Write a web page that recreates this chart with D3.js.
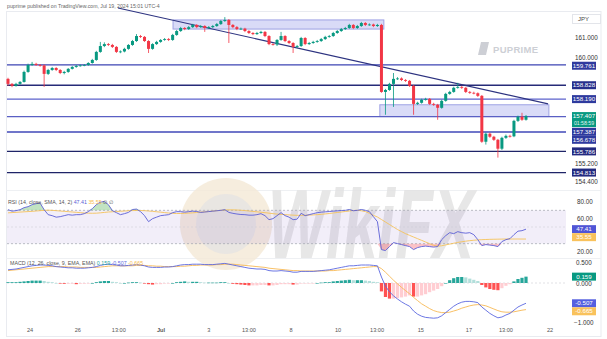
<!DOCTYPE html>
<html><head><meta charset="utf-8">
<script src="https://cdn.jsdelivr.net/npm/d3@7"></script>
<style>html,body{margin:0;padding:0;background:#fff;}svg{display:block;font-family:"Liberation Sans",Arial,sans-serif;}</style>
</head><body><svg id="c" width="607" height="339"></svg>
<script>
// ---------------- DATA ----------------
const opens = [159.12,158.89,158.80,158.89,158.98,159.44,159.76,159.81,159.76,159.74,
159.35,159.53,159.62,159.53,159.39,159.44,159.58,159.67,159.72,159.74,
159.76,159.85,159.99,160.36,160.63,160.72,160.68,160.59,160.36,160.38,
160.50,160.68,160.86,161.09,161.05,160.86,160.50,160.72,160.82,160.91,
160.95,160.91,161.14,161.32,161.46,161.41,161.50,161.60,161.50,161.55,
161.46,161.50,161.55,161.64,161.78,161.83,161.60,161.50,161.41,161.43,
161.32,161.23,161.18,161.23,161.28,161.09,160.72,160.70,160.91,161.09,
160.86,160.77,160.59,160.63,161.00,160.72,160.77,160.82,160.86,160.95,
161.05,161.09,161.23,161.32,161.41,161.46,161.60,161.46,161.55,161.69,
161.60,161.62,161.55,161.60,158.52,158.61,158.89,159.12,159.14,159.07,
159.03,158.80,157.97,158.02,158.16,158.20,157.97,157.93,157.79,158.11,
158.43,158.52,158.71,158.75,158.71,158.52,158.48,158.46,158.34,156.23,
156.60,156.46,156.32,155.91,156.41,156.50,156.48,157.19,157.38,157.24];
const highs = [159.17,158.93,158.94,159.02,159.50,159.82,159.90,159.86,159.80,159.78,
159.58,159.67,159.66,159.57,159.49,159.62,159.71,159.76,159.78,159.80,
159.89,160.04,160.41,160.82,160.80,160.77,160.73,160.63,160.43,160.55,
160.72,160.91,161.18,161.14,161.09,160.90,160.76,160.87,160.95,161.00,
161.00,161.19,161.37,161.51,161.50,161.55,161.65,161.64,161.60,161.59,
161.55,161.60,161.69,161.83,161.96,161.87,161.64,161.55,161.48,161.47,
161.36,161.27,161.28,161.33,161.32,161.13,160.76,160.95,161.28,161.13,
160.90,160.81,160.68,161.05,161.04,160.82,160.87,160.91,161.00,161.10,
161.14,161.28,161.37,161.46,161.51,161.65,161.64,161.60,161.74,161.73,
161.67,161.66,161.65,161.65,158.66,158.94,159.39,159.20,159.19,159.11,
159.07,158.84,158.07,158.21,158.25,158.24,158.02,157.97,158.16,158.48,
158.57,158.76,158.94,158.80,158.75,158.56,158.53,158.50,158.38,156.66,
156.65,156.50,156.36,156.46,156.56,156.55,157.24,157.43,157.56,157.46];
const lows = [158.80,158.74,158.76,158.85,158.95,159.40,159.72,159.72,159.68,158.75,
159.30,159.49,159.48,159.34,159.33,159.40,159.55,159.63,159.68,159.70,
159.72,159.82,159.95,160.32,160.58,160.63,160.54,160.31,160.30,160.34,
160.46,160.64,160.82,161.00,160.82,160.31,160.46,160.68,160.78,160.87,
160.86,160.87,161.10,161.28,161.36,161.37,161.46,161.45,161.46,161.28,
161.42,161.46,161.51,161.60,161.74,160.77,161.45,161.36,161.37,161.27,
161.18,161.13,161.14,161.19,161.04,160.67,160.65,160.63,160.87,160.81,
160.72,160.31,160.54,160.59,160.67,160.68,160.73,160.78,160.82,160.91,
161.01,161.05,161.19,161.28,161.37,161.42,161.41,161.42,161.51,161.55,
161.56,161.50,161.51,158.48,157.47,158.57,157.83,159.07,159.02,158.98,
158.75,157.47,157.92,157.98,158.12,157.92,157.88,157.24,157.75,158.07,
158.39,158.48,158.67,158.66,158.47,158.43,158.41,158.29,156.18,156.10,
156.41,156.27,155.50,155.85,156.36,156.42,156.44,157.14,157.19,157.20];
const closes = [158.89,158.80,158.89,158.98,159.44,159.76,159.81,159.76,159.74,159.35,
159.53,159.62,159.53,159.39,159.44,159.58,159.67,159.72,159.74,159.76,
159.85,159.99,160.36,160.63,160.72,160.68,160.59,160.36,160.38,160.50,
160.68,160.86,161.09,161.05,160.86,160.50,160.72,160.82,160.91,160.95,
160.91,161.14,161.32,161.46,161.41,161.50,161.60,161.50,161.55,161.46,
161.50,161.55,161.64,161.78,161.83,161.60,161.50,161.41,161.43,161.32,
161.23,161.18,161.23,161.28,161.09,160.72,160.70,160.91,161.09,160.86,
160.77,160.59,160.63,161.00,160.72,160.77,160.82,160.86,160.95,161.05,
161.09,161.23,161.32,161.41,161.46,161.60,161.46,161.55,161.69,161.60,
161.62,161.55,161.60,158.52,158.61,158.89,159.12,159.14,159.07,159.03,
158.80,157.97,158.02,158.16,158.20,157.97,157.93,157.79,158.11,158.43,
158.52,158.71,158.75,158.71,158.52,158.48,158.46,158.34,156.23,156.60,
156.46,156.32,155.91,156.41,156.50,156.48,157.19,157.38,157.24,157.41];

const rsi = [70.8,69.0,69.6,70.8,73.2,74.4,76.8,78.0,78.6,70.8,
64.8,63.6,61.8,62.4,63.6,64.8,64.2,64.8,64.8,66.0,
68.4,72.0,76.8,79.8,80.7,76.8,69.6,67.2,64.8,66.0,
67.5,71.0,71.5,68.5,63.6,56.4,60.0,61.8,63.6,64.2,
64.8,67.2,68.4,68.4,67.8,68.4,69.0,68.6,67.5,68.0,
68.5,69.0,69.5,70.0,70.8,67.5,66.4,65.6,65.0,64.8,
64.2,64.2,64.8,66.0,63.6,58.8,60.0,63.6,67.2,63.6,
61.8,58.8,59.4,66.4,63.6,64.8,66.0,67.2,67.8,68.2,
68.6,69.0,69.4,69.8,70.0,71.0,69.5,70.0,71.0,70.0,
68.4,62.4,56.4,22.9,21.7,26.5,31.3,30.1,28.9,27.7,
26.5,22.9,25.3,26.5,27.1,26.5,25.9,26.5,34.8,39.6,
43.2,42.0,44.4,43.2,42.6,43.2,40.8,34.8,27.7,28.9,
28.3,27.7,26.5,32.5,34.8,36.0,40.8,45.0,45.6,47.41];
const rsiSma = [67.0,67.3,67.6,67.9,68.2,68.5,68.8,69.2,69.6,70.0,
70.2,70.0,69.6,69.2,68.8,68.4,68.0,67.6,67.2,66.8,
66.6,66.5,66.6,67.0,67.5,68.0,68.3,68.6,68.9,69.2,
69.5,69.7,69.8,69.8,69.6,69.2,68.8,68.3,67.8,67.3,
66.8,66.4,66.2,66.2,66.4,66.7,67.0,67.4,67.8,68.2,
68.6,69.1,69.6,70.0,70.4,70.6,70.6,70.4,70.1,69.7,
69.2,68.7,68.2,67.7,67.2,66.6,66.0,65.5,65.1,64.8,
64.5,64.2,64.0,64.0,64.1,64.3,64.5,64.8,65.2,65.7,
66.2,66.8,67.4,68.0,68.6,69.2,69.8,70.0,69.5,68.5,
66.5,64.0,62.0,59.0,56.0,53.0,50.0,47.0,44.5,42.0,
40.0,38.0,36.0,34.0,32.0,30.0,28.0,27.0,27.5,28.5,
29.5,30.5,31.5,32.3,33.0,33.6,34.1,34.5,34.8,35.0,
35.2,35.3,35.4,35.5,35.6,35.6,35.6,35.6,35.55,35.55];

const macd = [0.33,0.34,0.35,0.37,0.39,0.41,0.43,0.44,0.45,0.45,
0.44,0.43,0.41,0.40,0.39,0.38,0.38,0.37,0.37,0.37,
0.38,0.39,0.41,0.44,0.46,0.47,0.46,0.45,0.43,0.43,
0.44,0.45,0.46,0.45,0.43,0.40,0.39,0.39,0.39,0.40,
0.40,0.41,0.43,0.45,0.46,0.46,0.47,0.47,0.47,0.46,
0.46,0.46,0.47,0.48,0.49,0.47,0.45,0.43,0.41,0.39,
0.37,0.36,0.35,0.35,0.34,0.31,0.30,0.30,0.31,0.30,
0.29,0.27,0.27,0.29,0.29,0.29,0.29,0.30,0.31,0.32,
0.33,0.35,0.37,0.39,0.41,0.43,0.43,0.44,0.45,0.45,
0.45,0.44,0.43,0.15,-0.08,-0.22,-0.32,-0.40,-0.47,-0.53,
-0.58,-0.70,-0.78,-0.83,-0.86,-0.87,-0.88,-0.87,-0.82,-0.74,
-0.66,-0.58,-0.52,-0.48,-0.46,-0.46,-0.47,-0.49,-0.60,-0.68,
-0.76,-0.82,-0.87,-0.85,-0.80,-0.76,-0.68,-0.60,-0.55,-0.507];
const signal = [0.31,0.32,0.33,0.34,0.35,0.36,0.37,0.38,0.39,0.40,
0.41,0.41,0.41,0.41,0.41,0.40,0.40,0.40,0.39,0.39,
0.39,0.39,0.39,0.40,0.41,0.42,0.43,0.43,0.43,0.43,
0.43,0.43,0.44,0.44,0.44,0.43,0.43,0.42,0.42,0.41,
0.41,0.41,0.41,0.42,0.42,0.43,0.44,0.44,0.45,0.45,
0.45,0.45,0.46,0.46,0.47,0.47,0.47,0.46,0.45,0.44,
0.43,0.42,0.41,0.40,0.39,0.37,0.36,0.35,0.34,0.33,
0.32,0.31,0.31,0.30,0.30,0.30,0.30,0.30,0.30,0.30,
0.31,0.31,0.32,0.33,0.34,0.35,0.36,0.37,0.38,0.39,
0.40,0.41,0.41,0.36,0.27,0.17,0.07,-0.02,-0.11,-0.19,
-0.27,-0.36,-0.44,-0.52,-0.58,-0.64,-0.69,-0.72,-0.74,-0.74,
-0.73,-0.70,-0.67,-0.63,-0.60,-0.57,-0.55,-0.54,-0.55,-0.57,
-0.61,-0.65,-0.69,-0.72,-0.73,-0.73,-0.72,-0.70,-0.68,-0.665];
const hist = [0.02,0.02,0.02,0.03,0.04,0.05,0.06,0.06,0.06,0.05,
0.03,0.02,0.00,-0.01,-0.02,-0.02,-0.02,-0.03,-0.02,-0.02,
-0.01,0.00,0.02,0.04,0.05,0.05,0.03,0.02,0.00,0.00,
0.01,0.02,0.02,0.01,-0.01,-0.03,-0.04,-0.03,-0.03,-0.01,
-0.01,0.00,0.02,0.03,0.04,0.03,0.03,0.03,0.02,0.01,
0.01,0.01,0.01,0.02,0.02,0.00,-0.02,-0.03,-0.04,-0.05,
-0.06,-0.06,-0.06,-0.05,-0.05,-0.06,-0.06,-0.05,-0.03,-0.03,
-0.03,-0.04,-0.04,-0.01,-0.01,-0.01,-0.01,0.00,0.01,0.02,
0.02,0.04,0.05,0.06,0.07,0.08,0.07,0.07,0.07,0.06,
0.05,0.03,0.02,-0.21,-0.35,-0.39,-0.39,-0.38,-0.36,-0.34,
-0.31,-0.34,-0.34,-0.31,-0.28,-0.23,-0.19,-0.15,-0.08,0.00,
0.07,0.12,0.15,0.15,0.14,0.11,0.08,0.05,-0.05,-0.11,
-0.15,-0.17,-0.18,-0.13,-0.07,-0.03,0.04,0.10,0.13,0.159];

// horizontal levels drawn on the price chart
const levels = [159.761,158.828,158.190,157.387,156.678,155.786,154.813];
const levelColors = ["#3d45b3","#262b78","#5c62cc","#5a5fc4","#4148b8","#1f2468","#1f2468"];
// zones: [startIndex, endIndex, top, bottom]
const zones = [[41.1,93.6,161.83,161.41],[92.6,134.7,157.93,157.387]];
// trendline: [index, price] endpoints
const trend = [[27.4,162.38],[134.5,157.97]];
const priceTicks = [161,160,155.2,154.4];
const rsiTicks = [80,60,20];
const macdTicks = [0.5,0,-1];
const timeTickPos = [5.5,17.4,27.6,38.1,50.0,60.0,70.5,82.2,91.9,102.8,114.8,124.0,135.0];
const timeTickLabels = ["24","26","13:00","Jul","3","13:00","8","10","13:00","15","17","13:00","22"];

// ---------------- DRAW ----------------
const svg = d3.select('#c');
svg.append('rect').attr('width',607).attr('height',339).attr('fill','#fff');
const N = closes.length;
const x = d3.scaleLinear().domain([0,N-1]).range([8,526]);
const y = d3.scaleLinear().domain([154.103,162.241]).range([188,11]);
const yR = d3.scaleLinear().domain([20,80]).range([252,202]);
const yM = d3.scaleLinear().domain([-1,0.5]).range([323,263]);
const idx = d3.range(N);

// frame
svg.append('rect').attr('x',6.5).attr('y',11.5).attr('width',594.5).attr('height',325)
  .attr('fill','none').attr('stroke','#e9ebf0').attr('stroke-width',1);
[190.5,258.5].forEach(v=>svg.append('line').attr('x1',6.5).attr('x2',601).attr('y1',v).attr('y2',v).attr('stroke','#eef0f3'));

// watermark
const wm = svg.append('g');
wm.append('circle').attr('cx',226).attr('cy',224).attr('r',46).attr('fill','#f4e8d6').attr('opacity',0.8);
wm.append('circle').attr('cx',226).attr('cy',224).attr('r',30).attr('fill','#e6e4e2').attr('opacity',0.8);
wm.append('text').attr('transform','translate(268,258) scale(1,1.6)').attr('font-size',62).attr('font-weight','bold')
  .attr('font-style','italic').attr('fill','#e3e3e3').attr('opacity',0.85).text('WikiFX');

// header
svg.append('text').attr('x',7).attr('y',8).attr('font-size',5.2).attr('fill','#666')
  .text('puprime published on TradingView.com, Jul 19, 2024 15:01 UTC-4');

// PU PRIME logo
const lg = svg.append('g').attr('fill','#cdcfd5');
lg.append('path').attr('d','M481 42 h8 l-3 13 h-8 z');
lg.append('text').attr('x',493).attr('y',53).attr('font-size',9.5).attr('font-weight','bold').attr('letter-spacing',0.3).text('PUPRIME');

// zones
zones.forEach(z=>{
  svg.append('rect').attr('x',x(z[0])).attr('y',y(z[2])).attr('width',x(z[1])-x(z[0])).attr('height',y(z[3])-y(z[2]))
    .attr('fill','rgba(120,125,225,0.28)').attr('stroke','#9ea2e4').attr('stroke-width',1);
});
// levels
levels.forEach((l,i)=>{
  svg.append('line').attr('x1',7).attr('x2',566).attr('y1',y(l)).attr('y2',y(l))
    .attr('stroke',levelColors[i]).attr('stroke-width',1.3);
});
// trendline
svg.append('line').attr('x1',x(trend[0][0])).attr('y1',y(trend[0][1])).attr('x2',x(trend[1][0])).attr('y2',y(trend[1][1]))
  .attr('stroke','#2d3380').attr('stroke-width',1.2);

// candles
const up='#089981', dn='#f23645';
const cg = svg.append('g');
idx.forEach(i=>{
  const c = closes[i]>=opens[i]?up:dn;
  cg.append('line').attr('x1',x(i)).attr('x2',x(i)).attr('y1',y(highs[i])).attr('y2',y(lows[i])).attr('stroke',c).attr('stroke-width',0.8);
  const t=y(Math.max(opens[i],closes[i])), b=y(Math.min(opens[i],closes[i]));
  cg.append('rect').attr('x',x(i)-1.5).attr('width',3).attr('y',t).attr('height',Math.max(0.8,b-t)).attr('fill',c);
});

// ---- RSI pane ----
svg.append('rect').attr('x',7).attr('width',559).attr('y',yR(70)).attr('height',yR(30)-yR(70)).attr('fill','rgba(126,87,194,0.10)');
[70,30].forEach(v=>svg.append('line').attr('x1',7).attr('x2',566).attr('y1',yR(v)).attr('y2',yR(v))
  .attr('stroke','#a0a3ad').attr('stroke-dasharray','2,2').attr('stroke-width',0.7));
svg.append('line').attr('x1',7).attr('x2',566).attr('y1',yR(50)).attr('y2',yR(50))
  .attr('stroke','#c8cad0').attr('stroke-dasharray','2,2').attr('stroke-width',0.5);
svg.append('path').datum(idx).attr('fill','rgba(76,175,80,0.35)')
  .attr('d',d3.area().x(i=>x(i)).y0(yR(70)).y1(i=>yR(Math.max(70,rsi[i]))));
svg.append('path').datum(idx).attr('fill','rgba(242,54,69,0.30)')
  .attr('d',d3.area().x(i=>x(i)).y0(yR(30)).y1(i=>yR(Math.min(30,rsi[i]))));
svg.append('path').datum(idx).attr('fill','none').attr('stroke','#f5c35a').attr('stroke-width',0.9)
  .attr('d',d3.line().x(i=>x(i)).y(i=>yR(rsiSma[i])));
svg.append('path').datum(idx).attr('fill','none').attr('stroke','#5b5fd6').attr('stroke-width',0.9)
  .attr('d',d3.line().x(i=>x(i)).y(i=>yR(rsi[i])));

// ---- MACD pane ----
svg.append('line').attr('x1',7).attr('x2',566).attr('y1',yM(0)).attr('y2',yM(0))
  .attr('stroke','#c0c3cb').attr('stroke-dasharray','2,2').attr('stroke-width',0.5);
idx.forEach(i=>{
  const h=hist[i], p=i>0?hist[i-1]:0;
  let col;
  if(h>=0) col = h>=p ? '#26a69a' : '#b2dfdb';
  else col = h<p ? '#ff5252' : '#ffcdd2';
  const a=yM(0), b=yM(h);
  svg.append('rect').attr('x',x(i)-1.6).attr('width',3.2).attr('y',Math.min(a,b)).attr('height',Math.max(0.6,Math.abs(b-a))).attr('fill',col);
});
svg.append('path').datum(idx).attr('fill','none').attr('stroke','#f7b955').attr('stroke-width',0.9)
  .attr('d',d3.line().x(i=>x(i)).y(i=>yM(signal[i])));
svg.append('path').datum(idx).attr('fill','none').attr('stroke','#5b68e0').attr('stroke-width',0.9)
  .attr('d',d3.line().x(i=>x(i)).y(i=>yM(macd[i])));

// pane titles
const rt = svg.append('text').attr('x',8).attr('y',204).attr('font-size',5.3).attr('fill','#555');
rt.append('tspan').text('RSI (14, close, SMA, 14, 2) ');
rt.append('tspan').attr('fill','#5b5fd6').text(' 47.41 ');
rt.append('tspan').attr('fill','#f5b94b').text(' 35.55 ');
rt.append('tspan').text(' ∅  ∅');
const mt = svg.append('text').attr('x',10).attr('y',265).attr('font-size',5.3).attr('fill','#555');
mt.append('tspan').text('MACD (12, 26, close, 9, EMA, EMA) ');
mt.append('tspan').attr('fill','#26a69a').text(' 0.159 ');
mt.append('tspan').attr('fill','#5b68e0').text(' -0.507 ');
mt.append('tspan').attr('fill','#f5b94b').text(' -0.665');

// axis ticks (right)
const tickG = svg.append('g').attr('font-size',6.3).attr('fill','#333');
priceTicks.forEach(v=>tickG.append('text').attr('x',575).attr('y',y(v)+(v===160?0.5:2.2)).text(d3.format('.3f')(v)));
rsiTicks.forEach(v=>tickG.append('text').attr('x',577).attr('y',yR(v)+2.2).text(d3.format('.2f')(v)));
macdTicks.forEach(v=>tickG.append('text').attr('x',v<0?574:576).attr('y',yM(v)+(v===0?3.4:2.2)).text(d3.format('.3f')(v)));
// JPY
svg.append('rect').attr('x',572.5).attr('y',14.5).attr('width',28).attr('height',9).attr('fill','#fff').attr('stroke','#e3e5ea');
svg.append('text').attr('x',578).attr('y',21).attr('font-size',6).attr('fill','#444').text('JPY');

// value labels
function lab(cy,txt,bg,fg,h){
  h=h||8;
  svg.append('rect').attr('x',572).attr('y',cy-h/2).attr('width',24).attr('height',h).attr('fill',bg);
  svg.append('text').attr('x',584).attr('y',cy+2.2).attr('text-anchor','middle').attr('font-size',6.2).attr('fill',fg).text(txt);
}
lab(y(levels[0])+0.8,'159.761','#2e3a9e','#fff');
lab(y(levels[1]),'158.828','#262f8c','#fff');
lab(y(levels[2]),'158.190','#2e3a9e','#fff');
svg.append('rect').attr('x',572).attr('y',y(closes[N-1])-4).attr('width',24).attr('height',15).attr('fill','#089981');
svg.append('text').attr('x',584).attr('y',y(closes[N-1])+2.2).attr('text-anchor','middle').attr('font-size',6.2).attr('fill','#fff').text('157.407');
svg.append('text').attr('x',584).attr('y',y(closes[N-1])+9).attr('text-anchor','middle').attr('font-size',5.2).attr('fill','#e0f5f1').text('01:58:59');
lab(131.8,'157.387','#2e3a9e','#fff');
lab(139.8,'156.678','#2e3a9e','#fff');
lab(y(levels[5]),'155.786','#232a80','#fff');
lab(y(levels[6]),'154.813','#232a80','#fff');
lab(yR(47.41),'47.41','#5055d6','#fff');
lab(yR(47.41)+8,'35.55','#f9c25c','#fff');
lab(yM(0.159),'0.159','#089981','#fff');
lab(yM(-0.507),'-0.507','#5560e0','#fff');
lab(yM(-0.507)+8,'-0.665','#f9c25c','#fff');

// time axis
const tg = svg.append('g').attr('font-size',5.6).attr('fill','#555');
timeTickPos.forEach((p,k)=>tg.append('text').attr('x',x(p)).attr('y',331.5).attr('text-anchor','middle')
  .attr('font-weight',timeTickLabels[k]==='Jul'?'bold':'normal').text(timeTickLabels[k]));
</script></body></html>
